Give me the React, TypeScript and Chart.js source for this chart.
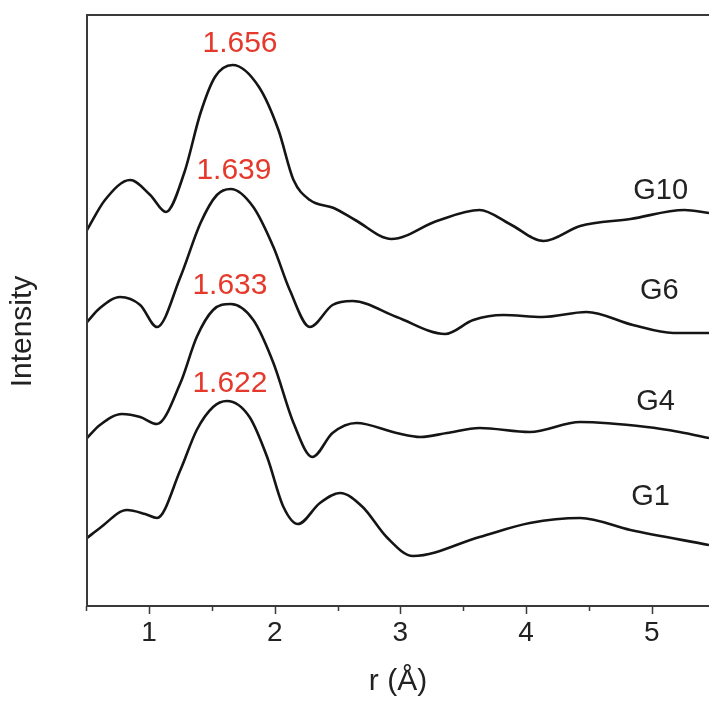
import React, { useEffect, useRef } from "react";
import { Chart, registerables } from "chart.js";

Chart.register(...registerables);

// r (Å) positions and intensities (a.u.)
const g10R = [0.507, 0.65, 0.85, 1.01, 1.135, 1.28, 1.41, 1.525, 1.665, 1.875, 2.03, 2.15, 2.28, 2.47, 2.64, 2.93, 3.29, 3.63, 3.87, 4.14, 4.43, 4.83, 5.26, 5.455];
const g10I = [3.76, 4.06, 4.26, 4.11, 3.94, 4.33, 4.93, 5.29, 5.41, 5.19, 4.76, 4.26, 4.06, 3.98, 3.86, 3.67, 3.85, 3.96, 3.82, 3.65, 3.8, 3.87, 3.96, 3.93];

const g6R = [0.507, 0.61, 0.77, 0.93, 1.064, 1.25, 1.41, 1.54, 1.65, 1.83, 1.99, 2.12, 2.28, 2.46, 2.62, 2.97, 3.355, 3.58, 3.82, 4.13, 4.48, 4.85, 5.17, 5.455];
const g6I = [2.84, 2.98, 3.09, 3.01, 2.79, 3.29, 3.83, 4.11, 4.17, 3.99, 3.59, 3.16, 2.79, 3.01, 3.05, 2.89, 2.72, 2.86, 2.91, 2.89, 2.94, 2.81, 2.73, 2.73];

const g4R = [0.507, 0.61, 0.785, 0.93, 1.064, 1.25, 1.38, 1.51, 1.65, 1.83, 1.99, 2.15, 2.3, 2.46, 2.65, 2.97, 3.16, 3.37, 3.63, 4.03, 4.43, 4.96, 5.22, 5.455];
const g4I = [1.68, 1.81, 1.92, 1.89, 1.82, 2.23, 2.69, 2.96, 3.02, 2.86, 2.43, 1.83, 1.49, 1.73, 1.83, 1.73, 1.69, 1.73, 1.78, 1.74, 1.84, 1.79, 1.74, 1.68];

const g1R = [0.507, 0.61, 0.825, 0.97, 1.064, 1.25, 1.38, 1.51, 1.62, 1.8, 1.94, 2.07, 2.185, 2.36, 2.52, 2.7, 2.89, 3.1, 3.63, 4.03, 4.43, 4.83, 5.455];
const g1I = [0.68, 0.78, 0.96, 0.92, 0.88, 1.36, 1.76, 1.99, 2.05, 1.89, 1.49, 0.99, 0.82, 1.03, 1.13, 0.99, 0.69, 0.5, 0.69, 0.83, 0.88, 0.76, 0.61];

// peak-position annotations (red)
const peakLabels = ["1.656", "1.639", "1.633", "1.622"];
const peakLabelR = [1.724, 1.676, 1.644, 1.644];
const peakLabelI = [5.62, 4.35, 3.2, 2.22];

// sample names
const sampleNames = ["G10", "G6", "G4", "G1"];
const sampleLabelR = [5.07, 5.06, 5.03, 4.99];
const sampleLabelI = [4.15, 3.15, 2.04, 1.09];

// x-axis ticks
const xMajorTicks = [1, 2, 3, 4, 5];
const xMinorTicks = [0.5, 1.5, 2.5, 3.5, 4.5];
const xMin = 0.507;
const xMax = 5.455;
const yMin = 0;
const yMax = 5.91;

const FONT = '"Liberation Sans", Arial, Helvetica, sans-serif';
const TEXT_COLOR = "#222222";
const RED = "#e5392c";

const toPoints = (rs: number[], is: number[]) => rs.map((r, i) => ({ x: r, y: is[i] }));

const overlayPlugin = {
  id: "overlay",
  afterDraw(chart: any) {
    const { ctx, chartArea, scales } = chart;
    const { left, right, top, bottom } = chartArea;
    const x = scales.x;
    const y = scales.y;
    ctx.save();
    // frame (left, bottom, top; right side cropped)
    ctx.strokeStyle = "#3a3a3a";
    ctx.lineWidth = 2;
    ctx.beginPath();
    ctx.moveTo(right, top);
    ctx.lineTo(left, top);
    ctx.lineTo(left, bottom);
    ctx.lineTo(right, bottom);
    ctx.stroke();
    // tick marks
    ctx.lineWidth = 1.5;
    ctx.beginPath();
    xMajorTicks.forEach((v) => {
      const px = Math.round(x.getPixelForValue(v)) + 0.5;
      ctx.moveTo(px, bottom);
      ctx.lineTo(px, bottom + 8);
    });
    xMinorTicks.forEach((v) => {
      const px = Math.round(x.getPixelForValue(v)) + 0.5;
      ctx.moveTo(px, bottom);
      ctx.lineTo(px, bottom + 5);
    });
    ctx.stroke();

    ctx.textAlign = "center";
    ctx.textBaseline = "middle";
    // red peak labels
    ctx.fillStyle = RED;
    ctx.font = `30px ${FONT}`;
    peakLabels.forEach((t, i) => {
      ctx.fillText(t, x.getPixelForValue(peakLabelR[i]), y.getPixelForValue(peakLabelI[i]));
    });
    // sample labels
    ctx.fillStyle = TEXT_COLOR;
    ctx.font = `29px ${FONT}`;
    sampleNames.forEach((t, i) => {
      ctx.fillText(t, x.getPixelForValue(sampleLabelR[i]), y.getPixelForValue(sampleLabelI[i]));
    });
    // y axis title
    ctx.font = `30px ${FONT}`;
    ctx.translate(left - 64, (top + bottom) / 2 + 21);
    ctx.rotate(-Math.PI / 2);
    ctx.fillText("Intensity", 0, 0);
    ctx.restore();
  },
};

export default function App() {
  const canvasRef = useRef<HTMLCanvasElement | null>(null);

  useEffect(() => {
    const canvas = canvasRef.current;
    if (!canvas) return;
    const series = [
      { label: "G10", r: g10R, i: g10I },
      { label: "G6", r: g6R, i: g6I },
      { label: "G4", r: g4R, i: g4I },
      { label: "G1", r: g1R, i: g1I },
    ];
    const chart = new Chart(canvas, {
      type: "line",
      data: {
        datasets: series.map((s) => ({
          label: s.label,
          data: toPoints(s.r, s.i),
          borderColor: "#151515",
          borderWidth: 2.6,
          pointRadius: 0,
          fill: false,
          cubicInterpolationMode: "monotone",
        })),
      },
      options: {
        animation: false,
        responsive: false,
        devicePixelRatio: 1,
        layout: { padding: { left: 87, right: 0, top: 15, bottom: 0 } },
        plugins: { legend: { display: false }, tooltip: { enabled: false }, title: { display: false } },
        scales: {
          x: {
            type: "linear",
            min: xMin,
            max: xMax,
            grid: { display: false, drawTicks: false },
            border: { display: false },
            afterBuildTicks: (scale: any) => {
              scale.ticks = xMajorTicks.map((v) => ({ value: v }));
            },
            afterFit: (scale: any) => {
              scale.height = 96;
            },
            ticks: {
              padding: 10,
              color: TEXT_COLOR,
              font: { family: FONT, size: 28 },
              maxRotation: 0,
              autoSkip: false,
              callback: (v: any) => String(v),
            },
            title: {
              display: true,
              text: "r (Å)",
              color: TEXT_COLOR,
              font: { family: FONT, size: 30 },
              padding: { top: 0, bottom: 2 },
            },
          },
          y: {
            display: false,
            min: yMin,
            max: yMax,
          },
        },
      },
      plugins: [overlayPlugin],
    } as any);
    return () => chart.destroy();
  }, []);

  return (
    <div style={{ position: "fixed", left: 0, top: 0, width: 709, height: 702, background: "#ffffff" }}>
      <canvas ref={canvasRef} width={709} height={702} style={{ display: "block", width: 709, height: 702 }} />
    </div>
  );
}
